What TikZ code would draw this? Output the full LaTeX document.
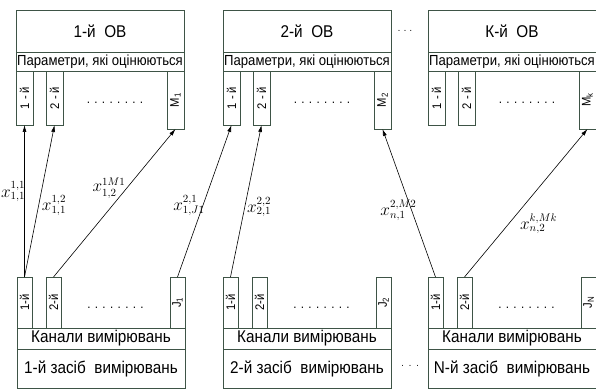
\documentclass[tikz,border=0pt]{standalone}
\usepackage[no-math]{fontspec}
\setmainfont[FakeStretch=0.9]{Liberation Sans}
\usepackage{xcolor}
\usepackage{tikz}
\usetikzlibrary{arrows.meta,positioning,calc}
\definecolor{boxline}{RGB}{62,84,70}

\begin{document}
\begin{tikzpicture}[x=1pt,y=-1pt,
    ov/.style={draw=boxline,line width=.8pt,outer sep=0pt,inner sep=0pt,
               minimum width=168pt,minimum height=42pt,font=\fontsize{17}{17}\selectfont},
    parrow/.style={ov,minimum height=19pt,font=\fontsize{14.6}{14.6}\selectfont},
    pslot/.style={draw=boxline,line width=.8pt,outer sep=0pt,inner sep=0pt,
                  minimum width=17pt,minimum height=54pt,font=\fontsize{12.5}{12.5}\selectfont},
    dev/.style={ov,minimum height=39pt,font=\fontsize{17}{17}\selectfont},
    chrow/.style={ov,minimum height=21pt,font=\fontsize{17}{17}\selectfont},
    cslot/.style={pslot,minimum width=15pt,minimum height=51pt},
    dots/.style={font=\fontsize{13}{13}\selectfont,inner sep=0pt},
    link/.style={-{Latex[length=7pt,width=4pt]},black,line width=.6pt},
    lbl/.style={font=\fontsize{16}{16}\selectfont,inner sep=1pt}]
\useasboundingbox (0,0) rectangle (596,390);

% objects of evaluation
\node[ov,anchor=north west] (ov1) at (16,10) {1-й\ \ ОВ};
\node[parrow,below=0pt of ov1] (par1) {Параметри, які оцінюються};
\node[pslot,anchor=north west] (p11) at (par1.south west) {\rotatebox{90}{1 - й}};
\node[pslot,right=13pt of p11] (p12) {\rotatebox{90}{2 - й}};
\node[pslot,anchor=north east,minimum height=58pt] (p1m) at (par1.south east) {\rotatebox{90}{M\textsubscript{1}}};
\node[dots] (pd1) at ($(p12.east)!.5!(p1m.west)+(0,4)$) {. . . . . . . .};

\node[ov,anchor=north west] (ov2) at (223,10) {2-й\ \ ОВ};
\node[parrow,below=0pt of ov2] (par2) {Параметри, які оцінюються};
\node[pslot,anchor=north west] (p21) at (par2.south west) {\rotatebox{90}{1 - й}};
\node[pslot,right=13pt of p21] (p22) {\rotatebox{90}{2 - й}};
\node[pslot,anchor=north east,minimum height=58pt] (p2m) at (par2.south east) {\rotatebox{90}{M\textsubscript{2}}};
\node[dots] (pd2) at ($(p22.east)!.5!(p2m.west)+(0,4)$) {. . . . . . . .};

\node[ov,anchor=north west] (ovk) at (428,10) {К-й\ \ ОВ};
\node[parrow,below=0pt of ovk] (park) {Параметри, які оцінюються};
\node[pslot,anchor=north west] (pk1) at (park.south west) {\rotatebox{90}{1 - й}};
\node[pslot,right=13pt of pk1] (pk2) {\rotatebox{90}{2 - й}};
\node[pslot,anchor=north east,minimum height=58pt] (pkm) at (park.south east) {\rotatebox{90}{M\textsubscript{k}}};
\node[dots] (pdk) at ($(pk2.east)!.5!(pkm.west)+(0,4)$) {. . . . . . . .};

\node[dots,font=\fontsize{10}{10}\selectfont] (ovdots) at (405,31) {. . .};

% measuring devices
\node[dev,anchor=south west] (dev1) at (17,388) {1-й засіб\ \ вимірювань};
\node[chrow,above=0pt of dev1] (can1) {Канали вимірювань};
\node[cslot,anchor=south west] (c11) at (can1.north west) {\rotatebox{90}{1-й}};
\node[cslot,right=14pt of c11] (c12) {\rotatebox{90}{2-й}};
\node[cslot,anchor=south east] (c1j) at (can1.north east) {\rotatebox{90}{J\textsubscript{1}}};
\node[dots] (cd1) at ($(c12.east)!.5!(c1j.west)+(0,5)$) {. . . . . . . .};

\node[dev,anchor=south west] (dev2) at (223,388) {2-й засіб\ \ вимірювань};
\node[chrow,above=0pt of dev2] (can2) {Канали вимірювань};
\node[cslot,anchor=south west] (c21) at (can2.north west) {\rotatebox{90}{1-й}};
\node[cslot,right=14pt of c21] (c22) {\rotatebox{90}{2-й}};
\node[cslot,anchor=south east] (c2j) at (can2.north east) {\rotatebox{90}{J\textsubscript{2}}};
\node[dots] (cd2) at ($(c22.east)!.5!(c2j.west)+(0,5)$) {. . . . . . . .};

\node[dev,anchor=south west] (devn) at (428,388) {N-й засіб\ \ вимірювань};
\node[chrow,above=0pt of devn] (cann) {Канали вимірювань};
\node[cslot,anchor=south west] (cn1) at (cann.north west) {\rotatebox{90}{1-й}};
\node[cslot,right=14pt of cn1] (cn2) {\rotatebox{90}{2-й}};
\node[cslot,anchor=south east] (cnj) at (cann.north east) {\rotatebox{90}{J\textsubscript{N}}};
\node[dots] (cdn) at ($(cn2.east)!.5!(cnj.west)+(0,5)$) {. . . . . . . .};

\node[dots,font=\fontsize{10}{10}\selectfont] (devdots) at (410,366) {.\ \ .\ \ .};

% measured values
\draw[link] (c11.north) -- (p11.south) node[lbl,pos=.56,left=-2pt] {$x_{1,1}^{1,1}$};
\draw[link] (c11.north) -- (p12.south) node[lbl,pos=.47,right=2pt] {$x_{1,1}^{1,2}$};
\draw[link] (c12.north) -- (p1m.south) node[lbl,pos=.6,left] {$x_{1,2}^{1M1}$};
\draw[link] (c1j.north) -- (p21.south) node[lbl,pos=.47,left=-3pt] {$x_{1,J1}^{2,1}$};
\draw[link] (c21.north) -- (p22.south) node[lbl,pos=.46,right=1pt] {$x_{2,1}^{2,2}$};
\draw[link] (cn1.north) -- (p2m.south) node[lbl,pos=.45,left=-6pt] {$x_{n,1}^{2,M2}$};
\draw[link] (cn2.north) -- (pkm.south) node[lbl,pos=.36,right=10pt] {$x_{n,2}^{k,Mk}$};
\end{tikzpicture}
\end{document}
